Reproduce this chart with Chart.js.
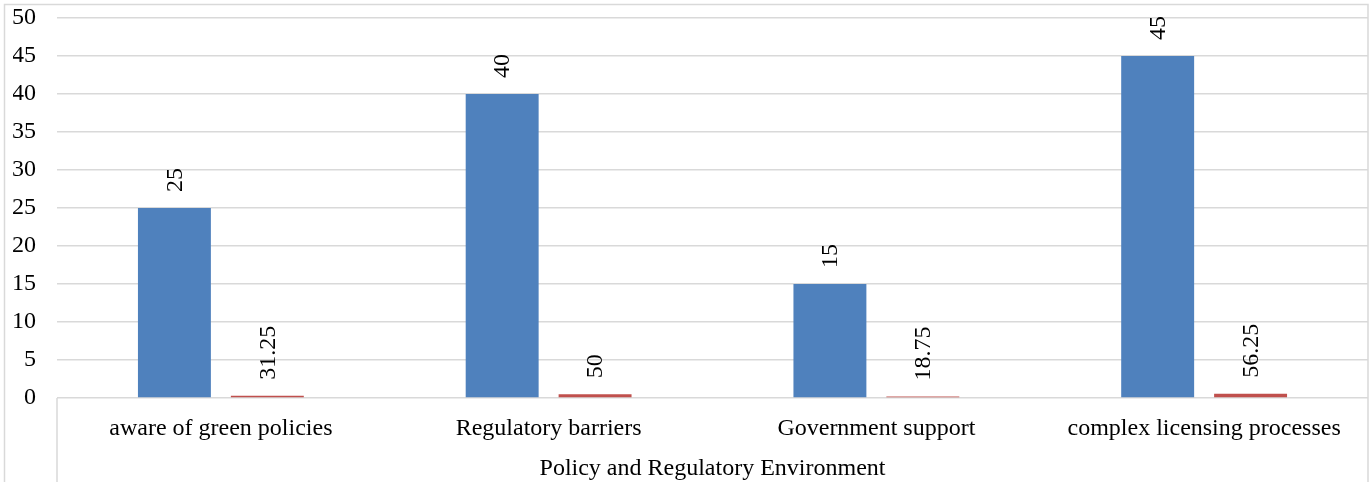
<!DOCTYPE html>
<html>
<head>
<meta charset="utf-8">
<script src="https://cdn.jsdelivr.net/npm/chart.js@4"></script>
<style>
  body { margin: 0; background: #fff; }
  #wrap { width: 1371px; height: 482px; }
</style>
</head>
<body>
<div id="wrap"><canvas id="bar-chart"></canvas></div>
<script>
const categories = ['aware of green policies', 'Regulatory barriers', 'Government support', 'complex licensing processes'];
const groupLabel = 'Policy and Regulatory Environment';
const countValues = [25, 40, 15, 45];
// second series is stored as a share, its label shows the percent
const shareValues = [0.3125, 0.5, 0.1875, 0.5625];
const yTicks = [0, 5, 10, 15, 20, 25, 30, 35, 40, 45, 50];

const serif = '"Liberation Serif", "Times New Roman", serif';

const frame = {
    id: 'frame',
    afterDraw(chart) {
        const c = chart.ctx;
        const a = chart.chartArea;
        c.save();
        c.strokeStyle = '#d9d9d9';
        c.lineWidth = 1.5;
        // outer border (left, top, right)
        c.beginPath();
        c.moveTo(4.5, chart.height);
        c.lineTo(4.5, 4.5);
        c.lineTo(a.right, 4.5);
        c.lineTo(a.right, chart.height);
        c.stroke();
        // category box
        c.beginPath();
        c.moveTo(a.left, a.bottom);
        c.lineTo(a.left, chart.height);
        c.stroke();
        // group label
        c.fillStyle = '#000';
        c.font = '24px ' + serif;
        c.textAlign = 'center';
        c.textBaseline = 'middle';
        c.fillText(groupLabel, (a.left + a.right) / 2, chart.height - 13);
        c.restore();
    }
};

const valueLabels = {
    id: 'valueLabels',
    afterDatasetsDraw(chart) {
        const c = chart.ctx;
        c.save();
        c.fillStyle = '#000';
        c.font = '24px ' + serif;
        c.textAlign = 'left';
        c.textBaseline = 'middle';
        chart.data.datasets.forEach((ds, i) => {
            chart.getDatasetMeta(i).data.forEach((bar, j) => {
                const v = ds.data[j];
                const txt = i === 0 ? String(v) : String(+(v * 100).toFixed(2));
                c.save();
                c.translate(bar.x, bar.y - 16);
                c.rotate(-Math.PI / 2);
                c.fillText(txt, 0, 1);
                c.restore();
            });
        });
        c.restore();
    }
};

new Chart(document.getElementById('bar-chart'), {
    type: 'bar',
    data: {
        labels: categories,
        datasets: [{
            label: 'Count',
            data: countValues,
            backgroundColor: '#4f81bd',
            categoryPercentage: 0.567,
            barPercentage: 0.785
        }, {
            label: 'Percent',
            data: shareValues,
            backgroundColor: '#c0504d',
            categoryPercentage: 0.567,
            barPercentage: 0.785
        }]
    },
    options: {
        responsive: true,
        maintainAspectRatio: false,
        animation: false,
        layout: { padding: { left: 13, right: 3, top: 18, bottom: 0 } },
        plugins: {
            legend: { display: false },
            tooltip: { enabled: false }
        },
        scales: {
            x: {
                grid: { display: false },
                border: { display: false },
                afterFit(axis) {
                    axis.height = 84;
                    axis.paddingLeft = 0;
                    axis.paddingRight = 0;
                },
                ticks: {
                    color: '#000',
                    padding: 8,
                    maxRotation: 0,
                    autoSkip: false,
                    font: { family: serif, size: 24 }
                }
            },
            y: {
                min: 0,
                max: 50,
                afterBuildTicks(axis) {
                    axis.ticks = yTicks.map(v => ({ value: v }));
                },
                afterFit(axis) {
                    axis.width = 44;
                    axis.paddingTop = 0;
                    axis.paddingBottom = 0;
                },
                grid: { color: '#d9d9d9', lineWidth: 1.5, drawTicks: false },
                border: { display: false },
                ticks: {
                    color: '#000',
                    padding: 21,
                    font: { family: serif, size: 24 }
                }
            }
        }
    },
    plugins: [frame, valueLabels]
});
</script>
</body>
</html>
